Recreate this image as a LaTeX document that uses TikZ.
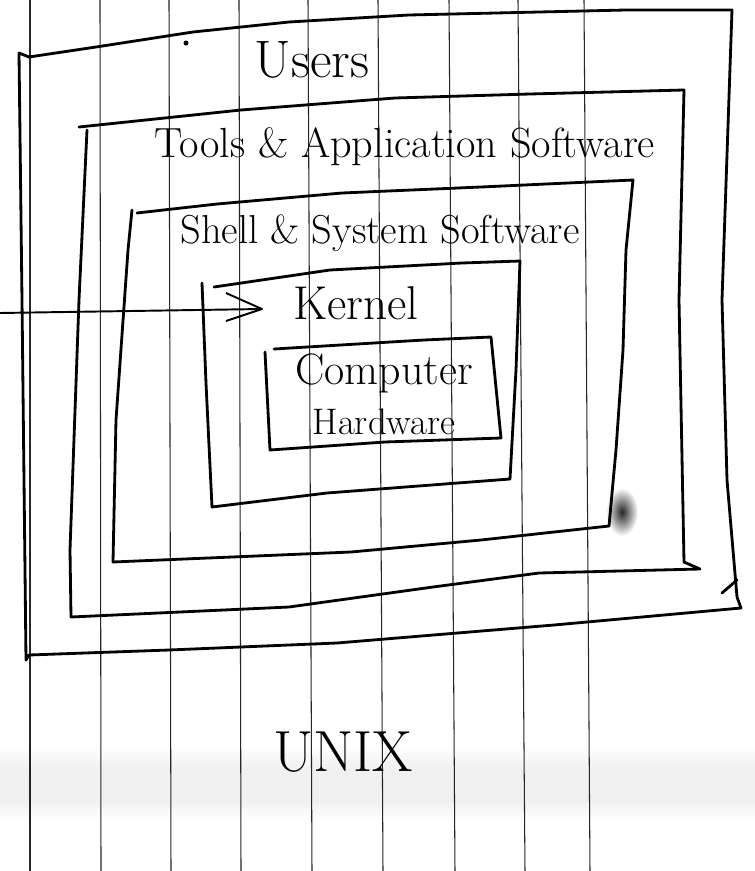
\documentclass[tikz,border=0pt]{standalone}
\usepackage{fontspec}
\usepackage{tikz}

\begin{document}
\begin{tikzpicture}[scale=0.2]
\tikzstyle{every node}+=[inner sep=0pt]
\tikzstyle{rule}=[black!85, line width=0.6pt]
\tikzstyle{box}=[black, line width=1.6pt, line join=round, line cap=round]
\fill [white] (0,0) rectangle (75.5,-87.1);
\useasboundingbox (0,0) rectangle (75.5,-87.1);
\shade [top color=white, bottom color=black!6] (0,-74.5) rectangle (75.5,-77.0);
\fill [black!6] (0,-77.0) rectangle (75.5,-80.0);
\shade [top color=black!6, bottom color=white] (0,-80.0) rectangle (75.5,-82.0);
\foreach \a/\b in {3.0/3.0, 10.0/10.1, 16.9/17.1, 23.9/24.1, 30.8/31.2, 37.8/38.3, 44.9/45.5, 51.8/52.5, 58.4/59.0}
  \draw [rule] (\a,0) -- (\b,-87.1);
\shade [inner color=black!85, outer color=white] (62.2,-51.2) ellipse (1.6 and 2.4);
\fill [black] (18.6,-4.3) circle (0.25);
\draw [box] (1.9,-5.3) -- (2.9,-5.7) -- (9.6,-4.7) -- (19.3,-3.2) -- (28.9,-2.2) -- (40.9,-1.5) -- (62.6,-1.0) -- (73.2,-1.0) -- (72.2,-30.0) -- (72.7,-48.0) -- (73.7,-59.7) -- (74.1,-60.8) -- (55.4,-62.5) -- (33.7,-64.3) -- (16.9,-65.0) -- (2.9,-65.5) -- (2.6,-66.0) -- (2.2,-30.0) -- cycle;
\draw [box] (72.2,-59.3) -- (73.7,-58.0);
\draw [box] (7.9,-12.7) -- (24.1,-11.0) -- (39.5,-9.8) -- (53.0,-9.4) -- (68.4,-9.0) -- (67.9,-30.0) -- (68.4,-56.2) -- (70.0,-56.9) -- (53.9,-57.3) -- (43.3,-58.7) -- (28.9,-60.7) -- (7.1,-61.7) -- (7.0,-55.0) -- (7.9,-30.0) -- (8.7,-13.0);
\draw [box] (13.7,-21.3) -- (21.7,-20.4) -- (34.2,-19.3) -- (48.1,-18.7) -- (63.3,-18.0) -- (62.6,-25.0) -- (62.3,-35.0) -- (61.6,-45.0) -- (60.9,-52.6) -- (48.1,-54.0) -- (35.1,-55.2) -- (11.3,-56.2) -- (11.6,-42.0) -- (12.8,-25.0) -- (13.2,-21.0);
\draw [box] (21.4,-28.7) -- (33.0,-27.0) -- (46.2,-26.3) -- (52.0,-26.1) -- (51.6,-37.0) -- (51.0,-47.9) -- (32.7,-49.3) -- (21.2,-50.7) -- (20.6,-38.3) -- (20.2,-28.3);
\draw [box] (27.4,-34.9) -- (42.4,-34.0) -- (49.1,-33.7) -- (50.1,-43.8) -- (38.5,-44.2) -- (27.0,-45.0) -- (26.5,-35.2);
\draw (31.2,-6.0) node (users) {\fontsize{30}{32}\selectfont Users};
\draw (40.5,-14.7) node (tools) {\fontsize{24}{26}\selectfont Tools \& Application Software};
\draw (38.0,-23.3) node (shell) {\fontsize{23}{25}\selectfont Shell \& System Software};
\draw (35.6,-30.3) node (kernel) {\fontsize{27}{29}\selectfont Kernel};
\draw (38.4,-37.3) node (computer) {\fontsize{25}{27}\selectfont Computer};
\draw (38.4,-42.2) node (hardware) {\fontsize{21}{23}\selectfont Hardware};
\draw (34.3,-75.2) node (unix) {\fontsize{33}{35}\selectfont UNIX};
\coordinate (kin) at (0,-31.3);
\coordinate (ktip) at (26.2,-30.9);
\draw [black, line width=1.1pt] (kin) -- (ktip);
\draw [black, line width=1.1pt, line join=round] (22.6,-29.3) -- (ktip) -- (22.6,-32.1);
\end{tikzpicture}
\end{document}
